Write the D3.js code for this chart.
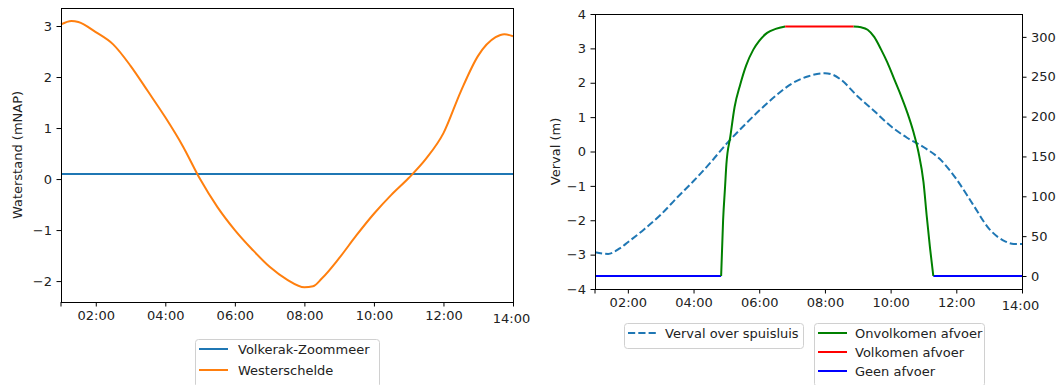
<!DOCTYPE html>
<html>
<head>
<meta charset="utf-8">
<script src="https://cdn.jsdelivr.net/npm/d3@7"></script>
<style>
  body { margin: 0; background: #fff; }
  svg { font-family: "DejaVu Sans", sans-serif; }
</style>
</head>
<body>
<div class="chart"></div>
<script>
// ----------------------------
// data (time in hours of the day)
// ----------------------------
var xTicks = [2, 4, 6, 8, 10, 12, 14];

// left chart: water levels
var volkerakHours = [1, 14];
var volkerak = [0.1, 0.1];

var westerscheldeHours = [1.0, 1.3, 1.5, 2.0, 2.5, 3.0, 3.5, 4.0, 4.5, 5.0, 5.5, 6.0, 6.5, 7.0, 7.5,
  8.0, 8.25, 8.5, 9.0, 9.5, 10.0, 10.5, 11.0, 11.5, 12.0, 12.5, 13.0, 13.5, 13.75, 14.0];
var westerschelde = [3.03, 3.10, 3.08, 2.88, 2.64, 2.22, 1.72, 1.21, 0.65, 0.0, -0.55, -1.0, -1.38, -1.72, -1.97,
  -2.12, -2.10, -1.95, -1.55, -1.10, -0.68, -0.31, 0.02, 0.40, 0.90, 1.72, 2.42, 2.78, 2.84, 2.80];
var waterstandTicks = [-2, -1, 0, 1, 2, 3];

// right chart: head difference (left axis)
var vervalHours = [1.0, 1.4, 1.75, 2.0, 2.5, 3.0, 3.5, 4.0, 4.5, 5.0, 5.5, 6.0, 6.5, 7.0, 7.5,
  8.0, 8.25, 8.5, 9.0, 9.5, 10.0, 10.5, 11.0, 11.5, 12.0, 12.5, 13.0, 13.5, 13.75, 14.0];
var verval = [-2.93, -2.98, -2.82, -2.64, -2.26, -1.84, -1.34, -0.86, -0.34, 0.22, 0.72, 1.19, 1.62, 1.98, 2.19,
  2.28, 2.23, 2.08, 1.60, 1.18, 0.74, 0.40, 0.13, -0.22, -0.80, -1.53, -2.25, -2.62, -2.69, -2.69];
var vervalTicks = [-4, -3, -2, -1, 0, 1, 2, 3, 4];

// right chart: discharge (right axis)
var onvolkomenRiseHours = [4.84, 4.9, 4.96, 5.0, 5.12, 5.25, 5.42, 5.6, 5.82, 6.0, 6.24, 6.5, 6.79];
var onvolkomenRise = [0, 70, 112, 140, 175, 212, 240, 264, 284, 295, 305, 310, 313];
var onvolkomenFallHours = [8.87, 9.1, 9.3, 9.5, 9.7, 9.9, 10.1, 10.3, 10.5, 10.7, 10.85, 11.0, 11.1, 11.2, 11.3];
var onvolkomenFall = [313, 312, 309, 300, 285, 268, 248, 228, 206, 180, 155, 118, 75, 35, 0];
var volkomenHours = [6.79, 8.87];
var volkomen = [313, 313];
var geenBeforeHours = [1, 4.84];
var geenBefore = [0, 0];
var geenAfterHours = [11.3, 14];
var geenAfter = [0, 0];
var afvoerTicks = [0, 50, 100, 150, 200, 250, 300];

// ----------------------------
// svg setup
// ----------------------------
var svgWidth = 1063;
var svgHeight = 385;
var fontSize = 13;
var tickLen = 4.5;

var svg = d3.select(".chart")
  .append("svg")
  .attr("width", svgWidth)
  .attr("height", svgHeight);

var leftBox = { left: 61, top: 8, width: 452, height: 294 };
var rightBox = { left: 595, top: 14, width: 427, height: 275 };

function zip(xs, ys) {
  return xs.map((x, i) => [x, ys[i]]);
}

function hourFormat(h) {
  return d3.format("02d")(h) + ":00";
}

// style axis text and ticks like matplotlib
function styleAxis(g) {
  g.select(".domain").remove();
  g.selectAll("line").attr("stroke", "#000").attr("stroke-width", 1);
  g.selectAll("text").attr("font-size", fontSize).attr("fill", "#222").attr("font-family", "DejaVu Sans");
}

function drawXAxis(chart, xScale, height) {
  var axis = chart.append("g")
    .attr("transform", `translate(0, ${height})`)
    .call(d3.axisBottom(xScale).tickValues(xTicks).tickFormat(hourFormat)
      .tickSize(tickLen).tickSizeOuter(0).tickPadding(4.5))
    .call(styleAxis);
  // the 14:00 label sits a little lower in the original
  axis.selectAll(".tick").filter(d => d === 14).select("text")
    .attr("transform", "translate(-2, 3)");
  // unlabelled tick at the left edge
  chart.append("line")
    .attr("x1", xScale(1)).attr("x2", xScale(1))
    .attr("y1", height).attr("y2", height + tickLen)
    .attr("stroke", "#000");
}

function drawFrame(chart, w, h) {
  chart.append("rect")
    .attr("width", w)
    .attr("height", h)
    .attr("fill", "none")
    .attr("stroke", "#000")
    .attr("stroke-width", 1)
    .attr("shape-rendering", "crispEdges");
}

function drawLegend(x, y, w, rowGap, items, textX) {
  var g = svg.append("g").attr("transform", `translate(${x}, ${y})`);
  g.append("rect")
    .attr("x", 0.5).attr("y", 0.5)
    .attr("width", w)
    .attr("height", rowGap * items.length + 6)
    .attr("rx", 3)
    .attr("fill", "#fff")
    .attr("stroke", "#d0d0d0");
  items.forEach(function(item, i) {
    var cy = 10 + i * rowGap;
    g.append("line")
      .attr("x1", 4).attr("x2", 33)
      .attr("y1", cy).attr("y2", cy)
      .attr("stroke", item.color)
      .attr("stroke-width", 2)
      .attr("stroke-dasharray", item.dash || null);
    g.append("text")
      .attr("x", textX)
      .attr("y", cy)
      .attr("dy", "0.35em")
      .attr("font-size", fontSize)
      .attr("fill", "#222")
      .text(item.label);
  });
}

// ----------------------------
// left chart: waterstand
// ----------------------------
var leftChart = svg.append("g")
  .attr("transform", `translate(${leftBox.left}, ${leftBox.top})`);

var xLeft = d3.scaleLinear().domain([1, 14]).range([0, leftBox.width]);
var yLeft = d3.scaleLinear().domain([-2.41, 3.353]).range([leftBox.height, 0]);

var lineLeft = d3.line()
  .x(d => xLeft(d[0]))
  .y(d => yLeft(d[1]))
  .curve(d3.curveMonotoneX);

leftChart.append("path")
  .attr("d", lineLeft(zip(volkerakHours, volkerak)))
  .attr("fill", "none")
  .attr("stroke", "#1f77b4")
  .attr("stroke-width", 2);

leftChart.append("path")
  .attr("d", lineLeft(zip(westerscheldeHours, westerschelde)))
  .attr("fill", "none")
  .attr("stroke", "#ff7f0e")
  .attr("stroke-width", 2);

leftChart.append("g")
  .call(d3.axisLeft(yLeft).tickValues(waterstandTicks).tickFormat(d => d < 0 ? "\u2212" + (-d) : d)
    .tickSize(tickLen).tickSizeOuter(0).tickPadding(4.5))
  .call(styleAxis);

drawXAxis(leftChart, xLeft, leftBox.height);
drawFrame(leftChart, leftBox.width, leftBox.height);

leftChart.append("text")
  .attr("transform", "rotate(-90)")
  .attr("x", -leftBox.height / 2)
  .attr("y", -39)
  .attr("text-anchor", "middle")
  .attr("font-size", fontSize)
  .attr("fill", "#222")
  .text("Waterstand (mNAP)");

drawLegend(195, 339, 184, 21, [
  { label: "Volkerak-Zoommeer", color: "#1f77b4" },
  { label: "Westerschelde", color: "#ff7f0e" }
], 43);

// ----------------------------
// right chart: verval + afvoer
// ----------------------------
var rightChart = svg.append("g")
  .attr("transform", `translate(${rightBox.left}, ${rightBox.top})`);

var xRight = d3.scaleLinear().domain([1, 14]).range([0, rightBox.width]);
var yVerval = d3.scaleLinear().domain([-4, 4]).range([rightBox.height, 0]);
var yAfvoer = d3.scaleLinear().domain([-16.3, 328.7]).range([rightBox.height, 0]);

var lineVerval = d3.line()
  .x(d => xRight(d[0]))
  .y(d => yVerval(d[1]))
  .curve(d3.curveMonotoneX);

var lineAfvoer = d3.line()
  .x(d => xRight(d[0]))
  .y(d => yAfvoer(d[1]))
  .curve(d3.curveMonotoneX);

rightChart.append("path")
  .attr("d", lineVerval(zip(vervalHours, verval)))
  .attr("fill", "none")
  .attr("stroke", "#1f77b4")
  .attr("stroke-width", 2)
  .attr("stroke-dasharray", "7.2,3.1");

var afvoerSeries = [
  { pts: zip(geenBeforeHours, geenBefore), color: "#0000ff" },
  { pts: zip(geenAfterHours, geenAfter), color: "#0000ff" },
  { pts: zip(onvolkomenRiseHours, onvolkomenRise), color: "#008000" },
  { pts: zip(onvolkomenFallHours, onvolkomenFall), color: "#008000" },
  { pts: zip(volkomenHours, volkomen), color: "#ff0000" }
];

afvoerSeries.forEach(function(s) {
  rightChart.append("path")
    .attr("d", lineAfvoer(s.pts))
    .attr("fill", "none")
    .attr("stroke", s.color)
    .attr("stroke-width", 2);
});

rightChart.append("g")
  .call(d3.axisLeft(yVerval).tickValues(vervalTicks).tickFormat(d => d < 0 ? "\u2212" + (-d) : d)
    .tickSize(tickLen).tickSizeOuter(0).tickPadding(4.5))
  .call(styleAxis);

rightChart.append("g")
  .attr("transform", `translate(${rightBox.width}, 0)`)
  .call(d3.axisRight(yAfvoer).tickValues(afvoerTicks)
    .tickSize(tickLen).tickSizeOuter(0).tickPadding(4.5))
  .call(styleAxis);

drawXAxis(rightChart, xRight, rightBox.height);
drawFrame(rightChart, rightBox.width, rightBox.height);

rightChart.append("text")
  .attr("transform", "rotate(-90)")
  .attr("x", -rightBox.height / 2)
  .attr("y", -35)
  .attr("text-anchor", "middle")
  .attr("font-size", fontSize)
  .attr("fill", "#222")
  .text("Verval (m)");

drawLegend(624, 323, 179, 19, [
  { label: "Verval over spuisluis", color: "#1f77b4", dash: "7.2,3.1" }
], 41);

drawLegend(814, 323, 170, 19, [
  { label: "Onvolkomen afvoer", color: "#008000" },
  { label: "Volkomen afvoer", color: "#ff0000" },
  { label: "Geen afvoer", color: "#0000ff" }
], 41);
</script>
</body>
</html>
